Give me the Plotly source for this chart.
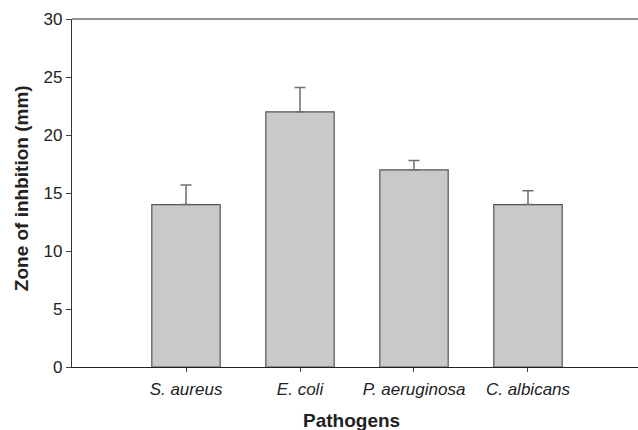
import plotly.graph_objects as go

# Zone of inhibition per pathogen (mean and upper error)
pathogens = ["S. aureus", "E. coli", "P. aeruginosa", "C. albicans"]
zone_mm = [14.0, 22.0, 17.0, 14.0]
zone_err = [1.7, 2.1, 0.8, 1.2]
y_ticks = [0, 5, 10, 15, 20, 25, 30]

fig = go.Figure()
fig.add_trace(go.Bar(
    x=list(range(len(pathogens))),
    y=zone_mm,
    width=0.6,
    marker=dict(color="#c8c9cb", line=dict(color="#555555", width=1.2)),
    error_y=dict(type="data", array=zone_err,
                 arrayminus=[0] * len(zone_err), symmetric=False,
                 color="#6e6e6e", thickness=1.5, width=5.5),
    showlegend=False,
))

fig.update_layout(
    width=638, height=430, autosize=False,
    margin=dict(l=72, r=0, t=19, b=63),
    paper_bgcolor="white", plot_bgcolor="white",
    font=dict(family="Liberation Sans, Arial, sans-serif", color="#222222"),
    xaxis=dict(
        range=[-1, 3.965],
        tickmode="array",
        tickvals=list(range(len(pathogens))),
        ticktext=[f"<i>{p}</i>" for p in pathogens],
        ticks="outside", ticklen=4, tickcolor="#444444", tickwidth=1,
        tickfont=dict(size=17), ticklabelstandoff=2,
        showline=True, linecolor="#222222", linewidth=1.3,
        showgrid=False, zeroline=False,
    ),
    yaxis=dict(
        range=[0, 30],
        tickmode="array", tickvals=y_ticks,
        ticks="outside", ticklen=5, tickcolor="#444444", tickwidth=1,
        tickfont=dict(size=17),
        showline=True, linecolor="#333333", linewidth=1.3,
        showgrid=False, zeroline=False,
    ),
    shapes=[dict(type="line", xref="paper", yref="paper",
                 x0=0, x1=1, y0=1, y1=1,
                 line=dict(color="#6e6e6e", width=1.5))],
    annotations=[
        dict(text="<b>Pathogens</b>", xref="paper", yref="paper",
             x=0.493, y=-0.155, xanchor="center", yanchor="middle",
             showarrow=False, font=dict(size=19)),
        dict(text="<b>Zone of inhbition (mm)</b>", xref="paper", yref="paper",
             x=-0.09, y=0.514, xanchor="center", yanchor="middle",
             textangle=-90, showarrow=False, font=dict(size=19)),
    ],
)

fig.write_html("out.html")
